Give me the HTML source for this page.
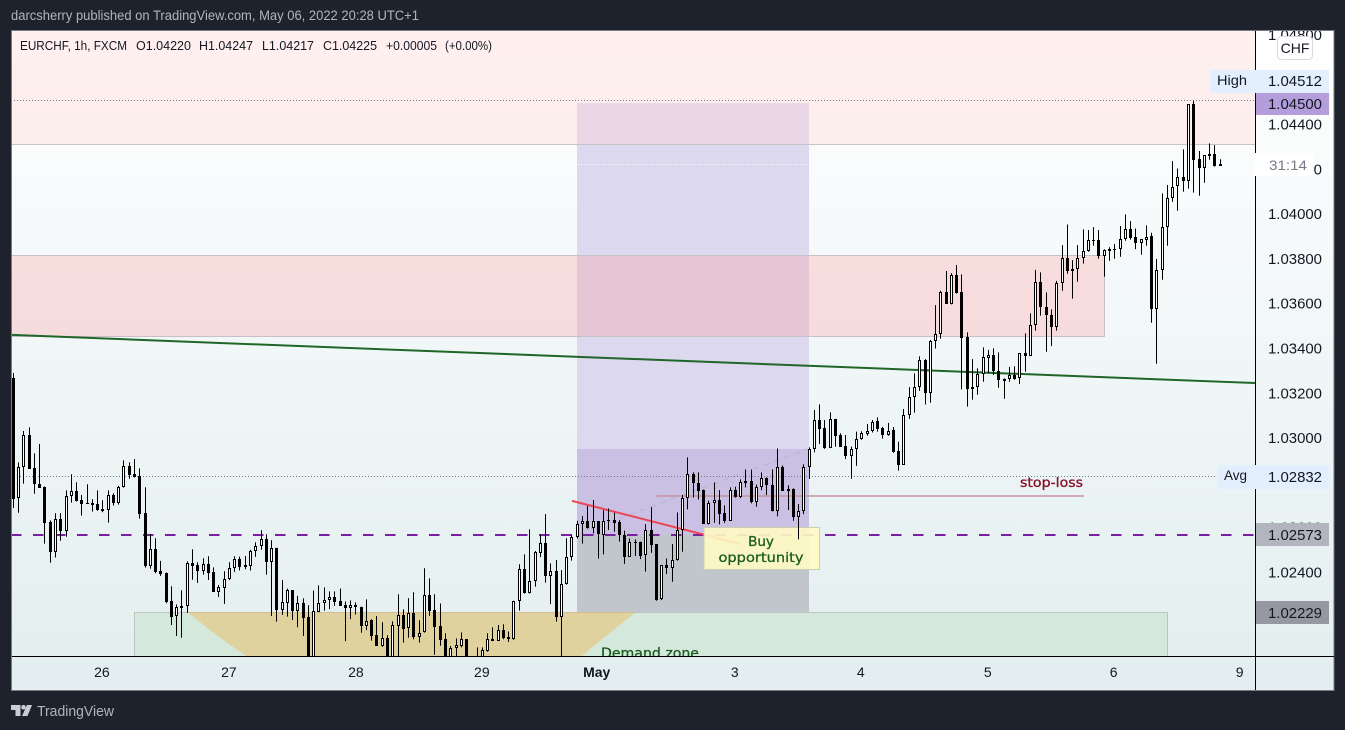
<!DOCTYPE html>
<html lang="en">
<head>
<meta charset="utf-8">
<title>EURCHF 1h chart</title>
<style>
html,body{margin:0;padding:0;background:#1e222d;width:1345px;height:730px;overflow:hidden}
svg{display:block;font-family:"Liberation Sans",sans-serif}
</style>
</head>
<body>
<svg id="chart" xmlns="http://www.w3.org/2000/svg" width="1345" height="730" viewBox="0 0 1345 730">
  <defs>
    <linearGradient id="bgGrad" x1="0" y1="0" x2="0" y2="1">
      <stop offset="0" stop-color="#ffffff"/>
      <stop offset="1" stop-color="#e2eeef"/>
    </linearGradient>
    <clipPath id="plotClip"><rect x="12" y="31" width="1243" height="625"/></clipPath>
    <clipPath id="axisClip"><rect x="1256" y="31" width="78" height="625"/></clipPath>
  </defs>

  <rect x="0" y="0" width="1345" height="730" fill="#1e222d"/>
  <text x="11" y="20" font-size="13.5" fill="#b2b5be" textLength="408" lengthAdjust="spacingAndGlyphs">darcsherry published on TradingView.com, May 06, 2022 20:28 UTC+1</text>

  <rect x="11.5" y="30.5" width="1322.5" height="660" fill="url(#bgGrad)" stroke="#787b86" stroke-width="1"/>

  <g id="plot" clip-path="url(#plotClip)">
    <rect x="577" y="103" width="232" height="346" fill="#dcd8ee"/>
    <rect x="577" y="449" width="232" height="85.500" fill="#c9c0e4"/>
    <rect x="577" y="534.500" width="232" height="78" fill="#c1c6cd"/>
    <rect x="11" y="20" width="1244" height="124.500" fill="rgb(255,228,229)" fill-opacity="0.6"/>
    <rect x="577" y="103" width="232" height="41.500" fill="rgb(120,80,190)" fill-opacity="0.05"/>
    <line x1="11" x2="1255" y1="144.500" y2="144.500" stroke="#c9c2c8"/>
    <rect x="11" y="255.500" width="1093.500" height="81" fill="rgb(255,155,157)" fill-opacity="0.3" stroke="#c9bfc6"/>
    <rect x="134.500" y="612.500" width="1033" height="60" fill="#d4e9dc" stroke="#bdc4c2"/>
    <path d="M188,612.500 L635,612.500 Q606,636 577,660 L252,660 Q216,636 188,612.500 Z" fill="#e0d29f"/>
    <line x1="188" x2="635" y1="612.500" y2="612.500" stroke="#d6bb90"/>
    <text x="601" y="658" font-size="14" fill="#1b5e20" stroke="#1b5e20" stroke-width="0.3" textLength="98" lengthAdjust="spacingAndGlyphs" font-family="'DejaVu Sans',sans-serif">Demand zone</text>
    <line id="stopLine" stroke="#c9929f" stroke-width="1.500"/>
    <text x="1020" y="487" font-size="13" fill="#880e2a" stroke="#880e2a" stroke-width="0.3" textLength="63" lengthAdjust="spacingAndGlyphs" font-family="'DejaVu Sans',sans-serif">stop-loss</text>
    <line x1="588" y1="530" x2="808" y2="449" stroke="#b5b6c4" stroke-width="1" stroke-dasharray="6 5"/>
    <line id="trendLine" stroke="#1f6628" stroke-width="2"/>
    <line id="avgLine" stroke="#787b86" stroke-width="1" stroke-dasharray="1 2" x1="11" x2="1255"/>
    <line id="highLine" stroke="#787b86" stroke-width="1" stroke-dasharray="1 2" x1="11" x2="1255"/>
    <line id="lastLine" stroke="#ffffff" stroke-width="1" stroke-dasharray="1 2" x1="11" x2="1255"/>
    <line id="entryLine" stroke="#7b1fa2" stroke-width="2" stroke-dasharray="10.500 11.500" x1="11" x2="1255"/>
    <line id="wedgeLine" stroke="#f23645" stroke-width="2" stroke-opacity="0.9"/>
    <rect x="704" y="527.500" width="115.500" height="42" fill="#fff9c4" fill-opacity="0.9" stroke="#cfcdb0"/>
    <g id="candles"></g>
    <text x="761" y="546" text-anchor="middle" font-size="13.500" fill="#1b5e20" stroke="#1b5e20" stroke-width="0.3" font-family="'DejaVu Sans',sans-serif">Buy</text>
    <text x="761" y="562" text-anchor="middle" font-size="13.500" fill="#1b5e20" stroke="#1b5e20" stroke-width="0.3" textLength="85" lengthAdjust="spacingAndGlyphs" font-family="'DejaVu Sans',sans-serif">opportunity</text>
  </g>

  <g id="legend" font-size="12.500" fill="#131722">
    <text x="20" y="50" textLength="107" lengthAdjust="spacingAndGlyphs">EURCHF, 1h, FXCM</text>
    <text x="136" y="50" textLength="55" lengthAdjust="spacingAndGlyphs">O1.04220</text>
    <text x="199" y="50" textLength="54" lengthAdjust="spacingAndGlyphs">H1.04247</text>
    <text x="262" y="50" textLength="52" lengthAdjust="spacingAndGlyphs">L1.04217</text>
    <text x="323" y="50" textLength="54" lengthAdjust="spacingAndGlyphs">C1.04225</text>
    <text x="386" y="50" textLength="51" lengthAdjust="spacingAndGlyphs">+0.00005</text>
    <text x="445" y="50" textLength="47" lengthAdjust="spacingAndGlyphs">(+0.00%)</text>
  </g>

  <line x1="1255.500" x2="1255.500" y1="31" y2="690" stroke="#000000"/>
  <line x1="12" x2="1334" y1="656.500" y2="656.500" stroke="#000000"/>

  <g id="yTicks" clip-path="url(#axisClip)"></g>
  <g id="xTicks"></g>

  <g>
    <rect x="1277.500" y="36.500" width="35" height="23" rx="4" fill="#ffffff" stroke="#d6d8e0"/>
    <text x="1295" y="53" text-anchor="middle" font-size="14" fill="#131722">CHF</text>
  </g>

  <rect x="1210" y="70" width="119" height="23" fill="#e3effd"/>
  <text x="1217" y="85" font-size="14" fill="#131722" textLength="30" lengthAdjust="spacingAndGlyphs">High</text>
  <text x="1295" y="86" text-anchor="middle" font-size="14.500" fill="#131722" textLength="54" lengthAdjust="spacingAndGlyphs">1.04512</text>
  <rect x="1256" y="93" width="73" height="22" fill="#b39ddb"/>
  <text x="1295" y="109" text-anchor="middle" font-size="14.500" fill="#131722" textLength="54" lengthAdjust="spacingAndGlyphs">1.04500</text>
  <rect x="1255" y="153" width="58" height="23" fill="#ffffff"/>
  <text x="1288" y="170" text-anchor="middle" font-size="14" fill="#787b86" textLength="38" lengthAdjust="spacingAndGlyphs">31:14</text>
  <rect x="1217" y="465" width="112" height="24" fill="#e3effd"/>
  <text x="1224" y="480" font-size="14" fill="#131722" textLength="23" lengthAdjust="spacingAndGlyphs">Avg</text>
  <text x="1295" y="482" text-anchor="middle" font-size="14.500" fill="#131722" textLength="54" lengthAdjust="spacingAndGlyphs">1.02832</text>
  <rect x="1256" y="523" width="73" height="23" fill="#b2b5be"/>
  <text x="1295" y="540" text-anchor="middle" font-size="14.500" fill="#131722" textLength="54" lengthAdjust="spacingAndGlyphs">1.02573</text>
  <rect x="1256" y="601" width="73" height="23" fill="#9598a1"/>
  <text x="1295" y="618" text-anchor="middle" font-size="14.500" fill="#131722" textLength="54" lengthAdjust="spacingAndGlyphs">1.02229</text>

  <g>
    <path d="M11,705 H20.500 V716 H15.500 V710 H11 Z M27,705 H32 L27.500,716 H22 Z" fill="#c9ccd4"/>
    <circle cx="23.500" cy="707.300" r="2.300" fill="#c9ccd4"/>
    <text x="37" y="716" font-size="14.500" fill="#b2b5be" textLength="77" lengthAdjust="spacingAndGlyphs">TradingView</text>
  </g>
</svg>

<script>
// EURCHF 1h candles, values in pipettes above 1.00000 (3269 = 1.03269)
const opens = [
3269,2733,2872,3015,2867,2796,2784,2626,2495,2640,
2589,2742,2765,2726,2711,2711,2707,2684,2680,2747,
2714,2783,2876,2841,2832,2667,2433,2506,2409,2399,
2274,2207,2251,2251,2443,2434,2411,2439,2403,2317,
2335,2372,2421,2461,2434,2433,2497,2519,2550,2448,
2510,2236,2268,2323,2232,2266,2202,1990,2227,2264,
2278,2291,2273,2256,2245,2256,2250,2165,2189,2122,
2075,2108,1995,2165,2211,2153,2220,2116,2135,2300,
2233,2162,2104,1990,2067,2075,2104,1990,2000,1990,
2052,2104,2098,2144,2113,2107,2273,2416,2311,2363,
2491,2532,2388,2407,2205,2349,2470,2559,2617,2630,
2603,2630,2571,2635,2635,2626,2568,2473,2537,2537,
2479,2590,2528,2282,2435,2423,2456,2592,2737,2840,
2804,2770,2620,2711,2728,2666,2633,2770,2739,2810,
2810,2718,2785,2822,2795,2678,2871,2773,2773,2651,
2679,2875,2952,3082,3047,2960,3086,3015,2966,2924,
2952,2997,3022,3035,3077,3047,3016,3037,2943,2884,
3104,3184,3229,3349,3205,3437,3466,3653,3602,3729,
3653,3452,3220,3229,3287,3361,3372,3303,3260,3268,
3284,3269,3381,3370,3506,3698,3586,3550,3500,3693,
3805,3755,3755,3805,3836,3885,3885,3816,3845,3845,
3845,3892,3934,3898,3874,3888,3903,3580,3751,3943,
4072,4126,4166,4151,4494,4246,4209,4269,4269,4220];
const highs = [
3293,2894,3034,3050,2934,2976,2786,2635,2667,2667,
2769,2841,2805,2748,2796,2729,2769,2725,2769,2756,
2789,2903,2894,2909,2867,2783,2574,2555,2454,2402,
2341,2260,2323,2452,2506,2448,2466,2475,2425,2347,
2408,2448,2475,2473,2476,2504,2537,2591,2573,2546,
2513,2369,2330,2324,2298,2287,2256,2322,2345,2336,
2318,2318,2331,2273,2278,2269,2250,2282,2193,2208,
2180,2122,2184,2305,2238,2288,2314,2189,2421,2376,
2305,2264,2131,2074,2108,2135,2104,2010,2068,2068,
2131,2157,2168,2171,2139,2276,2439,2483,2595,2498,
2572,2663,2443,2458,2413,2555,2572,2633,2654,2699,
2726,2630,2681,2688,2669,2636,2589,2554,2550,2540,
2618,2694,2528,2435,2465,2529,2670,2748,2916,2849,
2849,2773,2723,2804,2770,2702,2782,2785,2818,2862,
2862,2795,2849,2827,2862,2956,2880,2792,2778,2708,
2885,2961,3128,3153,3083,3117,3088,3024,3016,2964,
3031,3033,3065,3083,3095,3053,3070,3052,2986,3132,
3230,3291,3367,3355,3440,3596,3660,3748,3738,3775,
3733,3474,3355,3314,3407,3396,3403,3385,3269,3320,
3323,3381,3470,3559,3753,3742,3653,3577,3704,3864,
3956,3797,3864,3934,3931,3944,3931,3845,3854,3869,
3949,4001,3971,3938,3889,3952,3919,3802,4095,4132,
4239,4206,4291,4494,4508,4284,4266,4318,4310,4247];
const lows = [
2690,2669,2799,2866,2754,2781,2531,2446,2469,2544,
2562,2714,2719,2656,2710,2674,2678,2671,2625,2701,
2705,2781,2821,2826,2643,2424,2419,2399,2387,2265,
2168,2119,2111,2222,2370,2356,2393,2369,2315,2293,
2262,2369,2405,2411,2417,2411,2472,2504,2393,2208,
2183,2213,2205,2190,2158,2119,1960,1960,2226,2232,
2239,2254,2253,2096,2194,2214,2133,2145,2098,2074,
2071,1970,1970,2000,2089,2111,2104,2090,2134,2208,
2035,2075,1970,1970,2000,2068,1970,1960,1975,1970,
2049,2096,2098,2104,2092,2102,2232,2308,2308,2339,
2471,2357,2261,2183,1990,2348,2455,2554,2531,2598,
2577,2464,2483,2592,2584,2540,2441,2473,2476,2462,
2406,2490,2276,2279,2395,2361,2455,2495,2684,2737,
2728,2618,2617,2624,2617,2624,2633,2736,2734,2782,
2711,2696,2770,2748,2675,2653,2767,2681,2633,2550,
2663,2820,2939,2976,2954,2960,2964,2964,2909,2821,
2878,2995,3013,3027,3031,3000,3013,2937,2857,2884,
3088,3116,3213,3152,3160,3402,3446,3602,3599,3647,
3220,3143,3174,3196,3254,3291,3284,3227,3178,3254,
3263,3244,3299,3370,3482,3549,3388,3413,3482,3660,
3736,3625,3700,3781,3834,3861,3803,3723,3794,3803,
3812,3883,3888,3846,3821,3861,3517,3334,3709,3861,
4057,4017,4102,4116,4098,4084,4142,4245,4214,4217];
const closes = [
2732,2872,3015,2866,2796,2781,2625,2495,2640,2588,
2742,2765,2722,2710,2710,2705,2683,2677,2747,2714,
2783,2876,2839,2829,2665,2433,2506,2406,2397,2272,
2205,2247,2245,2443,2433,2411,2439,2402,2317,2336,
2372,2421,2461,2428,2427,2497,2519,2550,2448,2510,
2236,2269,2324,2232,2265,2200,1990,2229,2264,2278,
2291,2272,2254,2245,2256,2250,2165,2187,2120,2075,
2108,1995,2166,2211,2151,2220,2116,2134,2300,2232,
2160,2102,1990,2067,2077,2104,1990,1980,1995,2055,
2104,2096,2144,2111,2107,2273,2416,2312,2363,2492,
2532,2388,2407,2205,2349,2470,2559,2617,2630,2601,
2630,2572,2630,2630,2624,2568,2473,2537,2535,2477,
2590,2525,2279,2434,2423,2456,2592,2737,2840,2803,
2766,2620,2711,2728,2665,2632,2770,2739,2806,2804,
2718,2785,2822,2794,2678,2871,2767,2767,2651,2679,
2874,2952,3082,3044,2957,3086,3013,2964,2924,2952,
2997,3024,3035,3076,3043,3016,3035,2942,2884,3104,
3184,3229,3349,3205,3437,3466,3653,3602,3729,3650,
3451,3220,3229,3287,3363,3372,3303,3260,3268,3283,
3268,3381,3370,3506,3698,3586,3550,3500,3695,3805,
3749,3749,3805,3836,3885,3883,3816,3840,3839,3843,
3892,3934,3897,3874,3889,3901,3580,3751,3943,4072,
4124,4166,4151,4494,4245,4209,4264,4263,4217,4225];

const priceTicks = [1.048,1.046,1.044,1.042,1.040,1.038,1.036,1.034,1.032,1.030,1.028,1.026,1.024,1.022];
const dayLabels = ["26","27","28","29","May","3","4","5","6","9"];
const dayBars = [16.8,40.9,65,88.9,110.7,136.9,160.8,184.9,208.8,232.7];

// Reference levels (prices) and drawing anchors (bar index, price)
const avgPrice = 1.02832;
const highPrice = 1.04512;
const lastPrice = 1.04225;
const entryPrice = 1.02573;
const trendBars = [-0.44,235.6];
const trendPrices = [1.03463,1.03248];
const wedgeBars = [106,137.9];
const wedgePrices = [1.02722,1.02530];
const stopBars = [122,203.2];
const stopPrices = [1.02744,1.02744];

const NS = "http://www.w3.org/2000/svg";
const xScale = i => 13.33 + i * 5.27;
const yScale = p => 125 + (1.044 - p) * 22400;
const pip = v => 1 + v / 100000;

function setLine(id, x1, y1, x2, y2) {
  const el = document.getElementById(id);
  el.setAttribute("x1", x1);
  el.setAttribute("y1", y1);
  el.setAttribute("x2", x2);
  el.setAttribute("y2", y2);
}
function setLevel(id, price, offset) {
  const el = document.getElementById(id);
  const y = Math.round(yScale(price)) + offset;
  el.setAttribute("y1", y);
  el.setAttribute("y2", y);
}
setLevel("avgLine", avgPrice, 0.5);
setLevel("highLine", highPrice, 0.5);
setLevel("lastLine", lastPrice, 0.5);
setLevel("entryLine", entryPrice, 1);
setLine("trendLine", xScale(trendBars[0]), yScale(trendPrices[0]), xScale(trendBars[1]), yScale(trendPrices[1]));
setLine("wedgeLine", xScale(wedgeBars[0]), yScale(wedgePrices[0]), xScale(wedgeBars[1]), yScale(wedgePrices[1]));
setLine("stopLine", xScale(stopBars[0]), yScale(stopPrices[0]), xScale(stopBars[1]), yScale(stopPrices[1]));

const candleGroup = document.getElementById("candles");
opens.forEach((open, i) => {
  const close = closes[i];
  const up = close > open;
  const cx = Math.floor(xScale(i)) + 0.5;
  const top = Math.round(yScale(pip(Math.max(open, close))));
  const bottom = Math.round(yScale(pip(Math.min(open, close))));

  const g = document.createElementNS(NS, "g");
  
  

  const wick = document.createElementNS(NS, "line");
  
  
  wick.setAttribute("x1", cx);
  wick.setAttribute("x2", cx);
  wick.setAttribute("y1", yScale(pip(highs[i])));
  wick.setAttribute("y2", yScale(pip(lows[i])));
  wick.setAttribute("stroke", "#000000");
  wick.setAttribute("stroke-width", "1");
  g.appendChild(wick);

  const body = document.createElementNS(NS, "rect");
  
  
  if (up) {
    body.setAttribute("x", cx - 1);
    body.setAttribute("width", 2);
    body.setAttribute("y", top + 0.5);
    body.setAttribute("height", Math.max(1, bottom - top - 1));
    body.setAttribute("fill", "#ffffff");
    body.setAttribute("stroke", "#000000");
    body.setAttribute("stroke-width", "1");
  } else {
    body.setAttribute("x", cx - 1.5);
    body.setAttribute("width", 3);
    body.setAttribute("y", top);
    body.setAttribute("height", Math.max(1, bottom - top));
    body.setAttribute("fill", "#000000");
  }
  g.appendChild(body);
  candleGroup.appendChild(g);
});

const yTicks = document.getElementById("yTicks");
priceTicks.forEach(price => {
  const t = document.createElementNS(NS, "text");
  
  
  t.setAttribute("x", 1295);
  t.setAttribute("y", yScale(price) + 4.5);
  t.setAttribute("text-anchor", "middle");
  t.setAttribute("font-size", "14.5");
  t.setAttribute("fill", "#131722");
  t.setAttribute("textLength", "54");
  t.setAttribute("lengthAdjust", "spacingAndGlyphs");
  t.textContent = price.toFixed(5);
  yTicks.appendChild(t);
});

const xTicks = document.getElementById("xTicks");
dayLabels.forEach((label, i) => {
  const t = document.createElementNS(NS, "text");
  
  
  t.setAttribute("x", xScale(dayBars[i]));
  t.setAttribute("y", 677);
  t.setAttribute("text-anchor", "middle");
  t.setAttribute("font-size", "14");
  t.setAttribute("fill", "#131722");
  if (label === "May") t.setAttribute("font-weight", "bold");
  t.textContent = label;
  xTicks.appendChild(t);
});
</script>
</body>
</html>
